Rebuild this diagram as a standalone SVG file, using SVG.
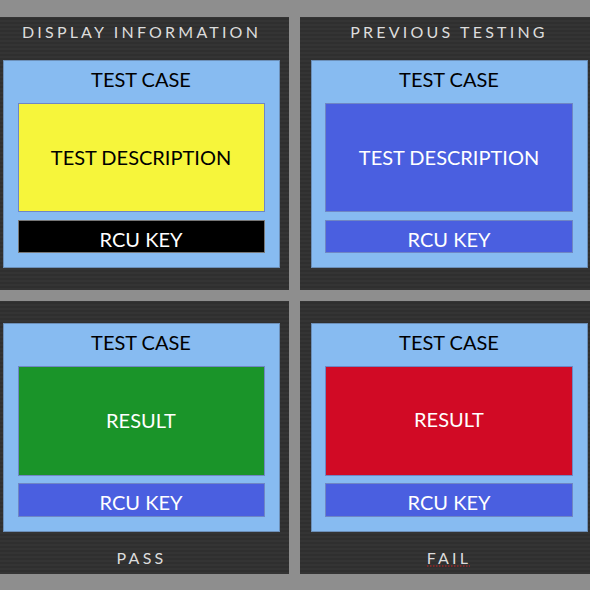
<svg xmlns="http://www.w3.org/2000/svg" width="590" height="590" viewBox="0 0 590 590">
  <defs>
    <!-- fine horizontal stripes for the dark panels -->
    <pattern id="stripes" width="8" height="4" patternUnits="userSpaceOnUse">
      <rect width="8" height="4" fill="#343434"/>
      <rect y="2" width="8" height="2" fill="#2f2f2f"/>
    </pattern>
    <style>
      .panel { fill: url(#stripes); }
      .card { fill: #87bbf1; stroke: #6c8fb8; stroke-width: 1; }
      .inner { stroke: #6f86c4; stroke-width: 1; }
      .blue { fill: #4a5fe0; }
      .title { font-family: Lato, "Open Sans", sans-serif; font-size: 16px; letter-spacing: 3.2px; fill: #dcdcdc; text-anchor: middle; }
      .head { font-family: Lato, "Open Sans", sans-serif; font-size: 20px; fill: #000; text-anchor: middle; }
      .lbl { font-family: Lato, "Open Sans", sans-serif; font-size: 20px; text-anchor: middle; dominant-baseline: central; }
      .w { fill: #ffffff; }
      .k { fill: #000000; }
    </style>
  </defs>

  <rect width="590" height="590" fill="#8e8e8e"/>

  <!-- top-left: display information -->
  <g id="display-information">
    <rect class="panel" x="0" y="17" width="289" height="273"/>
    <text class="title" x="141.5" y="37.5">DISPLAY INFORMATION</text>
    <rect class="card" x="3.5" y="60.5" width="276" height="207"/>
    <text class="head" x="141" y="87">TEST CASE</text>
    <rect class="inner" x="18.5" y="103.5" width="246" height="108" fill="#f6f53b"/>
    <text class="lbl k" x="141" y="157">TEST DESCRIPTION</text>
    <rect x="18.5" y="220.5" width="246" height="32" fill="#000" stroke="#777" stroke-width="1"/>
    <text class="lbl w" x="141" y="239">RCU KEY</text>
  </g>

  <!-- top-right: previous testing -->
  <g id="previous-testing">
    <rect class="panel" x="300" y="17" width="290" height="273"/>
    <text class="title" x="449" y="37.5">PREVIOUS TESTING</text>
    <rect class="card" x="311.5" y="60.5" width="276" height="207"/>
    <text class="head" x="449" y="87">TEST CASE</text>
    <rect class="inner blue" x="325.5" y="103.5" width="247" height="108"/>
    <text class="lbl w" x="449" y="157">TEST DESCRIPTION</text>
    <rect class="inner blue" x="325.5" y="220.5" width="247" height="32"/>
    <text class="lbl w" x="449" y="239">RCU KEY</text>
  </g>

  <!-- bottom-left: pass -->
  <g id="pass">
    <rect class="panel" x="0" y="301" width="289" height="273"/>
    <rect class="card" x="3.5" y="323.5" width="276" height="208"/>
    <text class="head" x="141" y="350">TEST CASE</text>
    <rect class="inner" x="18.5" y="366.5" width="246" height="109" fill="#1a9429"/>
    <text class="lbl w" x="141" y="420">RESULT</text>
    <rect class="inner blue" x="18.5" y="483.5" width="246" height="33"/>
    <text class="lbl w" x="141" y="502">RCU KEY</text>
    <text class="title" x="141.5" y="564">PASS</text>
  </g>

  <!-- bottom-right: fail -->
  <g id="fail">
    <rect class="panel" x="300" y="301" width="290" height="273"/>
    <rect class="card" x="311.5" y="323.5" width="276" height="208"/>
    <text class="head" x="449" y="350">TEST CASE</text>
    <rect class="inner" x="325.5" y="366.5" width="247" height="109" fill="#d10a25"/>
    <text class="lbl w" x="449" y="419">RESULT</text>
    <rect class="inner blue" x="325.5" y="483.5" width="247" height="33"/>
    <text class="lbl w" x="449" y="502">RCU KEY</text>
    <text class="title" x="449" y="564">FAIL</text>
    <line x1="427" y1="566" x2="470" y2="566" stroke="#d02020" stroke-width="1.2" stroke-dasharray="1.5 1.5"/>
  </g>
</svg>
